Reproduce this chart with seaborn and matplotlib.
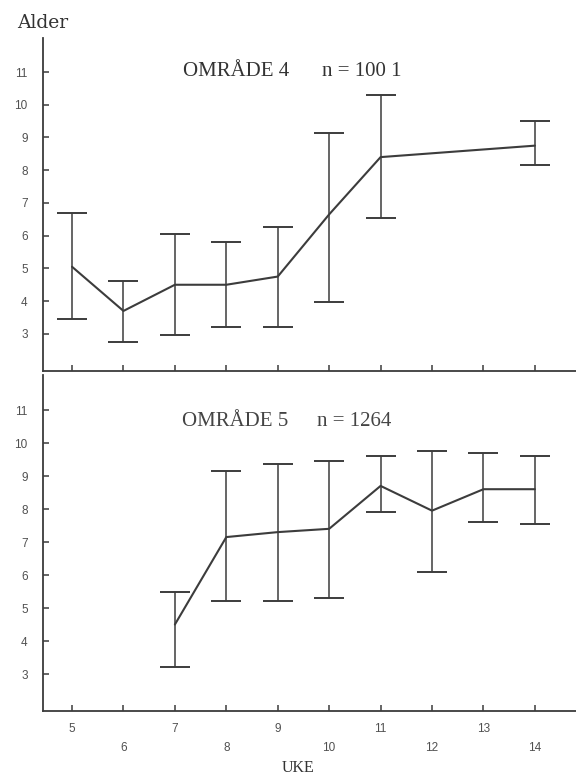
import numpy as np
import matplotlib
matplotlib.use("Agg")
import matplotlib.pyplot as plt
import seaborn as sns

# uker (x-akse)
uke = [5, 6, 7, 8, 9, 10, 11, 12, 13, 14]
alder_ticks = [3, 4, 5, 6, 7, 8, 9, 10, 11]

# OMRÅDE 4, n = 1001
uke4 = [5, 6, 7, 8, 9, 10, 11, 14]
snitt4 = [5.05, 3.7, 4.5, 4.5, 4.75, 6.65, 8.4, 8.75]
lav4 = [3.45, 2.75, 2.97, 3.2, 3.2, 3.98, 6.55, 8.15]
hoy4 = [6.7, 4.6, 6.05, 5.8, 6.25, 9.15, 10.3, 9.5]

# OMRÅDE 5, n = 1264
uke5 = [7, 8, 9, 10, 11, 12, 13, 14]
snitt5 = [4.5, 7.15, 7.3, 7.4, 8.7, 7.95, 8.6, 8.6]
lav5 = [3.2, 5.2, 5.2, 5.3, 7.9, 6.1, 7.6, 7.55]
hoy5 = [5.5, 9.15, 9.35, 9.45, 9.6, 9.75, 9.7, 9.6]

sns.set_style("ticks")
plt.rcParams['font.family'] = ['Liberation Sans', 'DejaVu Sans']

mork = '#3c3c3c'
tickfarge = '#505050'

fig = plt.figure(figsize=(5.76, 7.75), dpi=100)
ax1 = fig.add_axes([0.0747, 0.5213, 0.9253, 0.4297])
ax2 = fig.add_axes([0.0747, 0.0826, 0.9253, 0.4335])


def tegn(ax, x, snitt, lav, hoy, ylim):
    sns.lineplot(x=x, y=snitt, ax=ax, color=mork, lw=1.5)
    ax.errorbar(x, snitt, yerr=[np.subtract(snitt, lav), np.subtract(hoy, snitt)],
                fmt='none', ecolor=mork, elinewidth=1.1, capsize=10.8, capthick=1.4)
    ax.set_xlim(4.436, 14.8)
    ax.set_ylim(*ylim)
    ax.set_xticks(uke)
    ax.set_yticks(alder_ticks)
    ax.set_yticklabels([str(v) for v in alder_ticks], color=tickfarge, fontsize=8.5)
    ax.tick_params(direction='in', length=4, width=1.1, color=mork)
    ax.tick_params(axis='y', pad=11)
    for side in ['top', 'right']:
        ax.spines[side].set_visible(False)
    for side in ['left', 'bottom']:
        ax.spines[side].set_color(mork)
        ax.spines[side].set_linewidth(1.3)
    ax.set_xlabel('')
    ax.set_ylabel('')


tegn(ax1, uke4, snitt4, lav4, hoy4, (1.865, 12.04))
tegn(ax2, uke5, snitt5, lav5, hoy5, (1.88, 12.06))

ax1.set_xticklabels([])
ax2.set_xticklabels([str(u) for u in uke], color=tickfarge, fontsize=8.5)
for i, t in enumerate(ax2.xaxis.get_major_ticks()):
    t.set_pad(8.5 if i % 2 == 0 else 22.5)

serif = ['Liberation Serif', 'DejaVu Serif']
fig.text(183 / 576, 1 - 72 / 775, 'OMRÅDE 4', family=serif, fontsize=15,
         color='#333333', ha='left', va='center')
fig.text(322 / 576, 1 - 72 / 775, 'n = 100 1', family=serif, fontsize=15,
         color='#333333', ha='left', va='center')
fig.text(182 / 576, 1 - 422 / 775, 'OMRÅDE 5', family=serif, fontsize=15,
         color='#444444', ha='left', va='center')
fig.text(317 / 576, 1 - 422 / 775, 'n = 1264', family=serif, fontsize=15,
         color='#444444', ha='left', va='center')

fig.text(43 / 576, 1 - 23 / 775, 'Alder', family=['DejaVu Serif'], fontsize=13.5,
         color='#333333', ha='center', va='center')
fig.text(298 / 576, 1 - 768 / 775, 'UKE', family=serif, fontsize=11.5,
         color='#333333', ha='center', va='center')

fig.savefig('out.png', dpi=100)
